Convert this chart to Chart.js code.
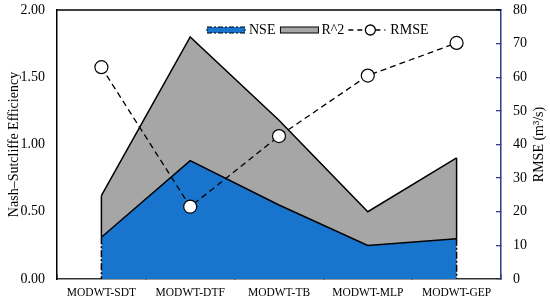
<!DOCTYPE html>
<html>
<head>
<meta charset="utf-8">
<script src="https://cdn.jsdelivr.net/npm/chart.js@4/dist/chart.umd.min.js"></script>
<style>
    body { margin: 0; background: #fff; }
    #chart { display: block; }
</style>
</head>
<body>
<canvas id="chart" width="550" height="300"></canvas>
<script>
// Chart data
const categories = ['MODWT-SDT', 'MODWT-DTF', 'MODWT-TB', 'MODWT-MLP', 'MODWT-GEP'];
const nseValues = [0.31, 0.88, 0.55, 0.25, 0.30];
const r2Values = [0.62, 1.80, 1.18, 0.50, 0.90];
const rmseValues = [63.0, 21.5, 42.5, 60.5, 70.2];
const leftTicks = [0, 0.5, 1.0, 1.5, 2.0];
const rightTicks = [0, 10, 20, 30, 40, 50, 60, 70, 80];

const FONT = "'Liberation Serif', 'Times New Roman', serif";
const BLUE = '#1874CD';
const GREY = '#A6A6A6';
const NAVY = '#2F3C8C';

// Fixed axis sizes, no label overhang padding
function fixSize(size, horizontal) {
    return axis => {
        if (horizontal) axis.height = size; else axis.width = size;
        axis.paddingTop = 0;
        axis.paddingBottom = 0;
        axis.paddingLeft = 0;
        axis.paddingRight = 0;
    };
}

// Edges, top border, right title and legend
const decorPlugin = {
    id: 'decor',
    afterDatasetsDraw(chart) {
        const ctx = chart.ctx;
        const x = chart.scales.x;
        const y = chart.scales.y;
        const last = categories.length - 1;
        ctx.save();
        [0, last].forEach(i => {
            const px = x.getPixelForValue(i);
            ctx.strokeStyle = '#000';
            ctx.lineWidth = 1.5;
            ctx.setLineDash([]);
            ctx.beginPath();
            ctx.moveTo(px, y.getPixelForValue(r2Values[i]));
            ctx.lineTo(px, y.getPixelForValue(nseValues[i]));
            ctx.stroke();
            ctx.setLineDash([7, 2, 2, 2]);
            ctx.beginPath();
            ctx.moveTo(px, y.getPixelForValue(nseValues[i]));
            ctx.lineTo(px, y.getPixelForValue(0));
            ctx.stroke();
        });
        ctx.restore();
    },
    afterDraw(chart) {
        const ctx = chart.ctx;
        const area = chart.chartArea;
        ctx.save();

        // top border
        ctx.strokeStyle = '#000';
        ctx.lineWidth = 1.5;
        ctx.beginPath();
        ctx.moveTo(area.left - 0.75, area.top);
        ctx.lineTo(area.right, area.top);
        ctx.stroke();

        // right axis title
        ctx.fillStyle = '#000';
        ctx.font = '14px ' + FONT;
        ctx.textAlign = 'center';
        ctx.textBaseline = 'middle';
        ctx.translate(539, (area.top + area.bottom) / 2);
        ctx.rotate(-Math.PI / 2);
        ctx.fillText('RMSE (m³/s)', 0, 0);
        ctx.restore();

        // legend
        ctx.save();
        const ly = area.top + 20;
        let lx = 207;
        ctx.font = '14px ' + FONT;
        ctx.textBaseline = 'middle';
        ctx.textAlign = 'left';

        ctx.fillStyle = BLUE;
        ctx.fillRect(lx, ly - 3, 38, 6);
        ctx.strokeStyle = '#000';
        ctx.lineWidth = 1;
        ctx.setLineDash([5, 2, 2, 2]);
        ctx.strokeRect(lx, ly - 3, 38, 6);
        ctx.setLineDash([]);
        ctx.fillStyle = '#000';
        ctx.fillText('NSE', lx + 42, ly);
        lx += 42 + ctx.measureText('NSE').width + 5;

        ctx.fillStyle = GREY;
        ctx.fillRect(lx, ly - 3, 38, 6);
        ctx.strokeRect(lx, ly - 3, 38, 6);
        ctx.fillStyle = '#000';
        ctx.fillText('R^2', lx + 41, ly);
        lx += 41 + ctx.measureText('R^2').width + 4;

        ctx.lineWidth = 1.3;
        ctx.setLineDash([5, 4]);
        ctx.beginPath();
        ctx.moveTo(lx, ly);
        ctx.lineTo(lx + 37, ly);
        ctx.stroke();
        ctx.setLineDash([]);
        ctx.beginPath();
        ctx.arc(lx + 22, ly, 5, 0, Math.PI * 2);
        ctx.fillStyle = '#fff';
        ctx.fill();
        ctx.stroke();
        ctx.fillStyle = '#000';
        ctx.fillText('RMSE', lx + 42, ly);
        ctx.restore();
    }
};

function setupChart() {
    const canvas = document.getElementById('chart');
    new Chart(canvas, {
        type: 'line',
        data: {
            labels: categories,
            datasets: [
                {
                    label: 'NSE',
                    data: nseValues,
                    yAxisID: 'y',
                    borderColor: '#000',
                    borderWidth: 1.5,
                    backgroundColor: BLUE,
                    fill: 'origin',
                    pointRadius: 0,
                    tension: 0,
                    order: 1
                },
                {
                    label: 'R^2',
                    data: r2Values,
                    yAxisID: 'y',
                    borderColor: '#000',
                    borderWidth: 1.5,
                    backgroundColor: GREY,
                    fill: 'origin',
                    pointRadius: 0,
                    tension: 0,
                    order: 2
                },
                {
                    label: 'RMSE',
                    data: rmseValues,
                    yAxisID: 'y1',
                    borderColor: '#000',
                    borderWidth: 1.3,
                    borderDash: [6, 4],
                    fill: false,
                    pointRadius: 6.5,
                    pointBorderWidth: 1.2,
                    pointBackgroundColor: '#fff',
                    pointBorderColor: '#000',
                    tension: 0,
                    order: 0
                }
            ]
        },
        options: {
            responsive: false,
            devicePixelRatio: 1,
            animation: false,
            layout: { autoPadding: false, padding: { top: 10, left: 0, right: 0, bottom: 0 } },
            plugins: {
                legend: { display: false },
                tooltip: { enabled: false }
            },
            scales: {
                x: {
                    type: 'category',
                    offset: true,
                    border: { display: true, color: '#333', width: 1.5 },
                    grid: {
                        offset: true,
                        drawOnChartArea: false,
                        drawTicks: true,
                        tickLength: -5,
                        color: '#333',
                        lineWidth: 1.5
                    },
                    ticks: {
                        color: '#000',
                        font: { family: FONT, size: 11.5 },
                        padding: 12,
                        maxRotation: 0,
                        autoSkip: false
                    },
                    afterFit: fixSize(21, true)
                },
                y: {
                    position: 'left',
                    min: 0,
                    max: 2,
                    border: { display: true, color: '#000', width: 1.5 },
                    grid: { display: false, drawTicks: false },
                    afterBuildTicks(axis) {
                        axis.ticks = leftTicks.map(v => ({ value: v }));
                    },
                    ticks: {
                        color: '#000',
                        font: { family: FONT, size: 14 },
                        padding: 12,
                        callback: v => Number(v).toFixed(2)
                    },
                    title: {
                        display: true,
                        text: 'Nash–Sutcliffe Efficiency',
                        color: '#000',
                        font: { family: FONT, size: 14 },
                        padding: { top: 6, bottom: 0 }
                    },
                    afterFit: fixSize(57, false)
                },
                y1: {
                    position: 'right',
                    min: 0,
                    max: 80,
                    border: { display: true, color: NAVY, width: 1.5 },
                    grid: {
                        drawOnChartArea: false,
                        drawTicks: true,
                        tickLength: -5,
                        color: NAVY,
                        lineWidth: 1.3
                    },
                    afterBuildTicks(axis) {
                        axis.ticks = rightTicks.map(v => ({ value: v }));
                    },
                    ticks: {
                        color: '#000',
                        font: { family: FONT, size: 14 },
                        padding: 17
                    },
                    afterFit: fixSize(49, false)
                }
            }
        },
        plugins: [decorPlugin]
    });
}

document.addEventListener('DOMContentLoaded', setupChart);
</script>
</body>
</html>
